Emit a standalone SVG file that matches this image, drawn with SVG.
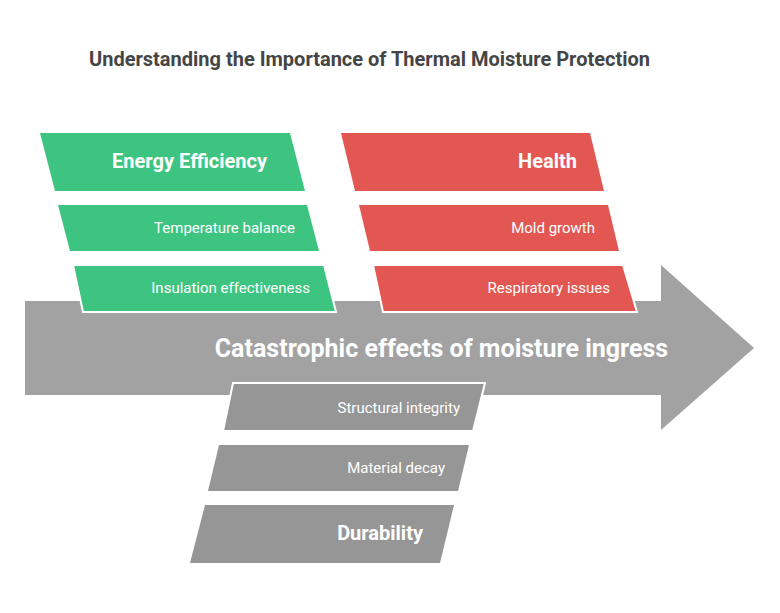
<svg xmlns="http://www.w3.org/2000/svg" width="780" height="613" viewBox="0 0 780 613">
<style>
text{font-family:Roboto,"Liberation Sans",sans-serif;fill:#fff}
.title{font-size:20px;font-weight:bold;fill:#454545}
.head{font-size:20px;font-weight:bold}
.sub{font-size:15px}
.main{font-size:25px;font-weight:bold}
.g{fill:#3ec481}
.r{fill:#e35753}
.k{fill:#979697}
.w{stroke:#fff;stroke-width:2}
</style>
<rect width="780" height="613" fill="#fff"/>
<text class="title" x="369.5" y="66" text-anchor="middle">Understanding the Importance of Thermal Moisture Protection</text>
<g id="connectors">
<path id="arrow" d="M25,301 L661,301 L661,265 L754,348 L661,430 L661,395 L25,395 Z" fill="#a3a2a3"/>
<text class="main" x="441.5" y="357" text-anchor="middle">Catastrophic effects of moisture ingress</text>
</g>
<g id="energy-efficiency">
<path class="g" d="M40,133 L290,133 L305,191 L55,191 Z"/>
<text class="head" x="267" y="168" text-anchor="end">Energy Efficiency</text>
</g>
<g id="temperature-balance">
<path class="g" d="M58,205 L307,205 L319,251 L70,251 Z"/>
<text class="sub" x="295" y="233" text-anchor="end">Temperature balance</text>
</g>
<g id="insulation-effectiveness">
<path class="g w" d="M73,265 L324,265 L336,312 L83,312 Z"/>
<text class="sub" x="310" y="293" text-anchor="end">Insulation effectiveness</text>
</g>
<g id="health">
<path class="r" d="M341,133 L590,133 L604,191 L355,191 Z"/>
<text class="head" x="577" y="168" text-anchor="end">Health</text>
</g>
<g id="mold-growth">
<path class="r" d="M359,205 L608,205 L619,251 L370,251 Z"/>
<text class="sub" x="595" y="233" text-anchor="end">Mold growth</text>
</g>
<g id="respiratory-issues">
<path class="r w" d="M373,265 L623,265 L637,312 L383,312 Z"/>
<text class="sub" x="610" y="293" text-anchor="end">Respiratory issues</text>
</g>
<g id="structural-integrity">
<path class="k w" d="M233,383 L485,383 L473,431 L223,431 Z"/>
<text class="sub" x="460" y="413" text-anchor="end">Structural integrity</text>
</g>
<g id="material-decay">
<path class="k" d="M219,445 L469,445 L458,491 L208,491 Z"/>
<text class="sub" x="445" y="473" text-anchor="end">Material decay</text>
</g>
<g id="durability">
<path class="k" d="M205,505 L454,505 L440,563 L190,563 Z"/>
<text class="head" x="423" y="540" text-anchor="end">Durability</text>
</g>
</svg>
